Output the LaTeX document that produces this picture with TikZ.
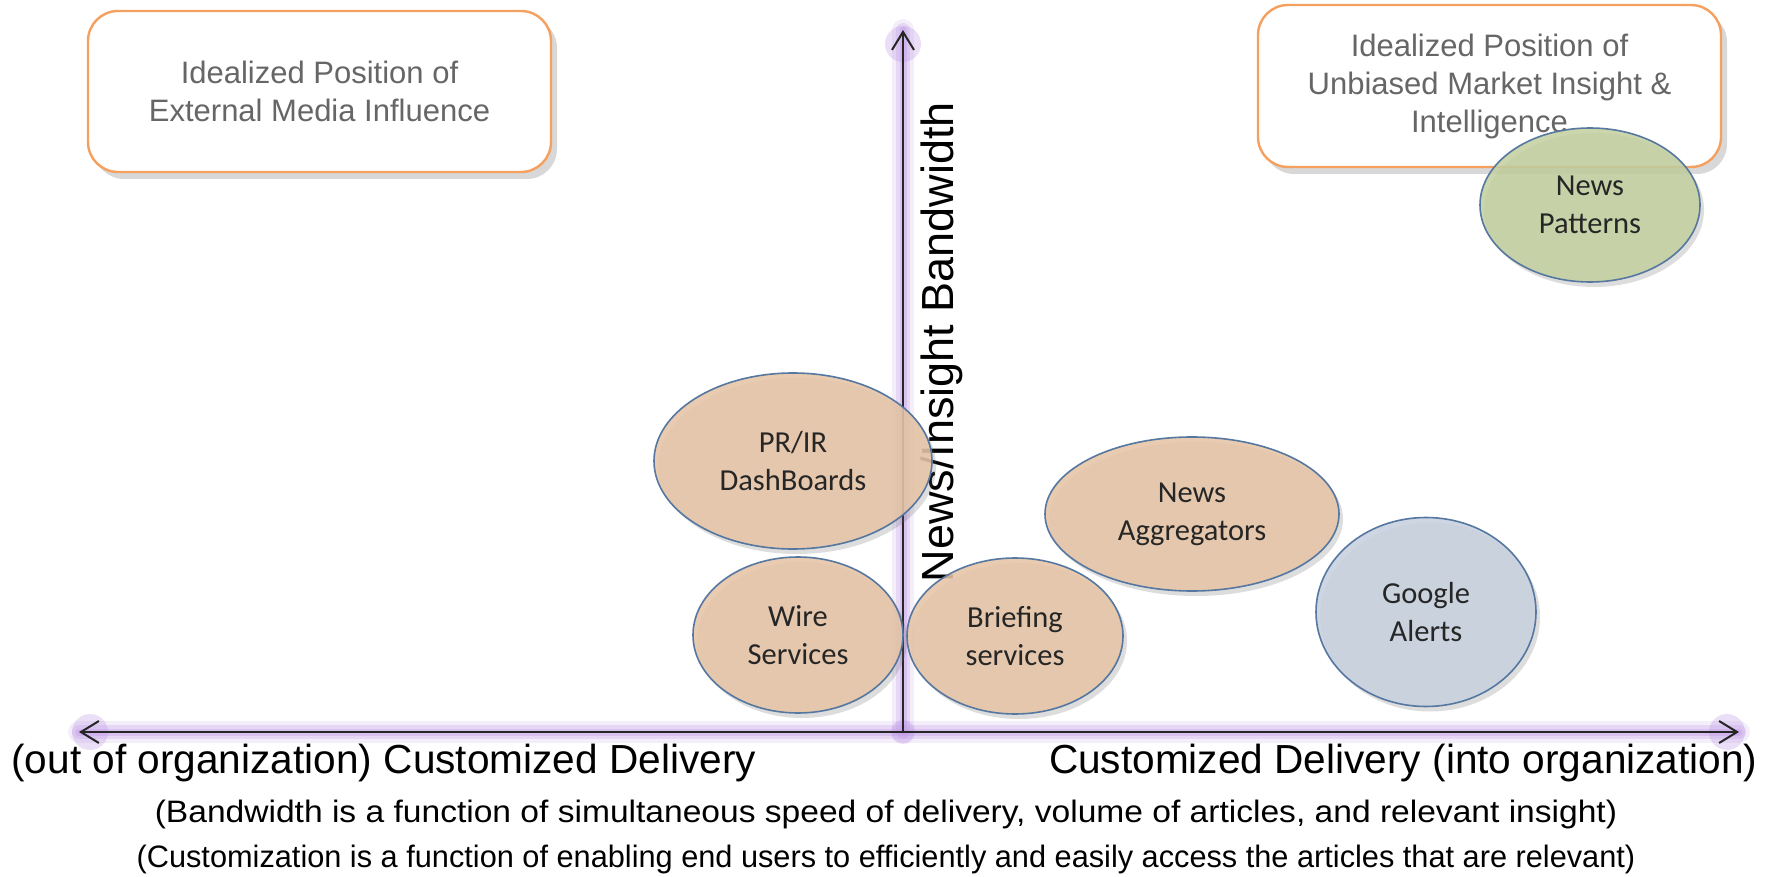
\documentclass[tikz,border=0pt]{standalone}
\usepackage{fontspec}
\setmainfont{Liberation Sans}
\newfontfamily\calfont{Carlito}
\usetikzlibrary{shapes.geometric,shadows,arrows.meta}
\definecolor{peach}{HTML}{E5C4A6}
\definecolor{bubbleedge}{HTML}{5577A0}
\definecolor{googlefill}{HTML}{C7D1DE}
\definecolor{greenfill}{HTML}{C3CF9F}
\definecolor{boxedge}{HTML}{F5A05F}
\definecolor{boxtext}{HTML}{666666}
\definecolor{glowcol}{HTML}{BE96E6}
\begin{document}
\begin{tikzpicture}[x=0.5pt,y=-0.5pt,
  ideabox/.style={draw=boxedge, line width=1.2pt, rounded corners=15pt, fill=white,
    align=center, inner sep=0pt, text=boxtext,
    font=\fontsize{15.5pt}{19pt}\selectfont,
    drop shadow={shadow xshift=3pt, shadow yshift=-3.5pt, opacity=0.25, fill=black!60}},
  bubble/.style={ellipse, draw=bubbleedge, line width=0.8pt, fill=peach,
    fill opacity=0.88, text opacity=1, inner sep=0pt, align=center,
    font=\calfont\fontsize{15.25pt}{19pt}\selectfont, text=black!85,
    drop shadow={shadow xshift=2pt, shadow yshift=-2.5pt, opacity=0.22, fill=black!60}},
  glowline/.style={draw=glowcol, line cap=round},
  glowblob/.style={fill=glowcol, opacity=0.3},
  axisline/.style={draw=black!85, line width=1pt},
  caption/.style={inner sep=0pt, text=black}
]
\useasboundingbox (0,0) rectangle (1773,877);
\fill[white] (0,0) rectangle (1773,877);

\coordinate (O) at (903,732);
\coordinate (T) at (903,30);
\coordinate (L) at (79,732);
\coordinate (R) at (1739,732);
\coordinate (Tg) at (903,44);
\coordinate (Lg) at (90,732);
\coordinate (Rg) at (1727,732);

% glow
\draw[glowline, line width=11pt, opacity=0.16] (L) -- (R);
\draw[glowline, line width=11pt, opacity=0.16] (O) -- (T);
\draw[glowline, line width=7pt, opacity=0.25] (L) -- (R);
\draw[glowline, line width=7pt, opacity=0.25] (O) -- (T);
\draw[glowline, line width=3.5pt, opacity=0.35] (L) -- (R);
\draw[glowline, line width=3.5pt, opacity=0.35] (O) -- (T);
\fill[glowblob] (Tg) circle (9pt);
\fill[glowblob] (Lg) circle (9pt);
\fill[glowblob] (Rg) circle (9pt);
\fill[glowblob] (O) circle (6pt);

% axes
\draw[axisline, {Straight Barb[length=9pt,width=11pt]}-{Straight Barb[length=9pt,width=11pt]}] (L) -- (R);
\draw[axisline, -{Straight Barb[length=9pt,width=11pt]}] (O) -- (T);

\node[caption, rotate=90, font=\fontsize{22.5pt}{26pt}\selectfont] (ylab) at (942,342) {News/Insight Bandwidth};

% boxes
\node[ideabox, minimum width=231.5pt, minimum height=80.5pt] (ext) at (319.5,91.5)
  {Idealized Position of\\External Media Influence};
\node[ideabox, minimum width=231.5pt, minimum height=81pt] (unb) at (1489.5,86)
  {Idealized Position of\\Unbiased Market Insight \&\\Intelligence};

% bubbles
\node[bubble, minimum width=139pt, minimum height=88pt] (pr) at (793,461) {PR/IR\\DashBoards};
\node[bubble, minimum width=105pt, minimum height=78pt] (wire) at (798,635) {Wire\\Services};
\node[bubble, minimum width=108pt, minimum height=78pt] (brief) at (1015,636) {Briefing\\services};
\node[bubble, minimum width=147pt, minimum height=77pt] (agg) at (1192,514) {News\\Aggregators};
\node[bubble, fill=googlefill, minimum width=110pt, minimum height=94.5pt] (google) at (1426,612) {Google\\Alerts};
\node[bubble, fill=greenfill, fill opacity=0.85, minimum width=110pt, minimum height=77pt] (pat) at (1590,205) {News\\Patterns};

% captions
\node[caption, anchor=west, font=\fontsize{20.3pt}{24pt}\selectfont] (outlab) at (11,763)
  {(out of organization) Customized Delivery};
\node[caption, anchor=east, font=\fontsize{20.3pt}{24pt}\selectfont] (inlab) at (1758,763)
  {Customized Delivery (into organization)};
\node[caption, font=\fontsize{15.5pt}{18pt}\selectfont] (bw) at (886,814)
  {\scalebox{1.083}[1]{(Bandwidth is a function of simultaneous speed of delivery, volume of articles, and relevant insight)}};
\node[caption, font=\fontsize{15.5pt}{18pt}\selectfont] (cu) at (886,859)
  {\scalebox{0.991}[1]{(Customization is a function of enabling end users to efficiently and easily access the articles that are relevant)}};
\end{tikzpicture}
\end{document}
